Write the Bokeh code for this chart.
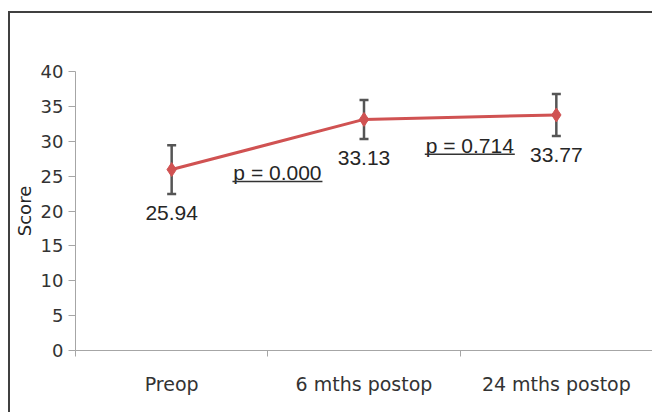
from bokeh.plotting import figure
from bokeh.models import Range1d, FixedTicker, Whisker, TeeHead, ColumnDataSource
from bokeh.core.properties import value
from bokeh.embed import file_html
from bokeh.resources import INLINE

# ---- data ----
categories = ["Preop", "6 mths postop", "24 mths postop"]
scores = [25.94, 33.13, 33.77]
sds = [3.5, 2.8, 3.0]
score_labels = ["25.94", "33.13", "33.77"]
p_values = ["p = 0.000", "p = 0.714"]
y_ticks = [0, 5, 10, 15, 20, 25, 30, 35, 40]

RED = "#d05252"
GRID = "#a6a6a6"
TXT = "#262626"

xs = [i + 0.5 for i in range(len(categories))]
src = ColumnDataSource(dict(
    x=xs, y=scores,
    upper=[s + d for s, d in zip(scores, sds)],
    lower=[s - d for s, d in zip(scores, sds)],
    label=score_labels,
))

p = figure(width=644, height=401, x_range=Range1d(0, len(categories)),
           y_range=Range1d(y_ticks[0], y_ticks[-1]),
           output_backend="svg", toolbar_location=None,
           min_border_left=63, min_border_right=2, min_border_top=58, min_border_bottom=64)
p.styles = {"border-left": "2px solid #404040", "border-top": "2px solid #404040",
            "margin-top": "11px", "margin-left": "8px"}
p.outline_line_color = None
p.xgrid.visible = False
p.ygrid.visible = False
p.background_fill_color = "white"
p.border_fill_color = "white"

# y axis
ya = p.yaxis[0]
ya.ticker = FixedTicker(ticks=y_ticks)
ya.axis_line_color = GRID
ya.major_tick_line_color = GRID
ya.major_tick_out = 7
ya.major_tick_in = 0
ya.minor_tick_line_color = None
ya.major_label_text_font = "DejaVu Sans"
ya.major_label_text_font_size = "18px"
ya.major_label_text_color = "#333333"
ya.major_label_standoff = 5
ya.axis_label = "Score"
ya.axis_label_text_font = "DejaVu Sans"
ya.axis_label_text_font_size = "18px"
ya.axis_label_text_font_style = "normal"
ya.axis_label_text_color = TXT
ya.axis_label_standoff = 3

# x axis: labels at category centres, ticks at category boundaries
xa = p.xaxis[0]
xa.ticker = FixedTicker(ticks=xs, minor_ticks=list(range(len(categories) + 1)))
xa.major_label_overrides = {x: c for x, c in zip(xs, categories)}
xa.axis_line_color = GRID
xa.major_tick_line_color = None
xa.major_tick_out = 0
xa.major_tick_in = 0
xa.minor_tick_line_color = GRID
xa.minor_tick_out = 6
xa.minor_tick_in = 0
xa.major_label_text_font = "DejaVu Sans"
xa.major_label_text_font_size = "19px"
xa.major_label_text_color = "#333333"
xa.major_label_standoff = 16

# error bars
w = Whisker(source=src, base="x", upper="upper", lower="lower",
            line_color="#555555", line_width=2.5,
            upper_head=TeeHead(size=9, line_color="#555555", line_width=2.5),
            lower_head=TeeHead(size=9, line_color="#555555", line_width=2.5))
p.add_layout(w)

p.line("x", "y", source=src, line_color=RED, line_width=3)
p.scatter("x", "y", source=src, marker="diamond", size=14, fill_color=RED, line_color=RED)

# value labels under error bars
p.text("x", "lower", text="label", source=src, text_align="center", text_baseline="middle",
       y_offset=19, text_font=value("Liberation Sans"), text_font_size="21px", text_color=TXT)

# p-values between points, underlined
px = [(xs[i] + xs[i + 1]) / 2 + 0.05 for i in range(len(p_values))]
py = [(scores[i] + scores[i + 1]) / 2 - 4.0 for i in range(len(p_values))]
p.text(px, py, text=p_values, text_align="center", text_baseline="middle",
       text_font=value("Liberation Sans"), text_font_size="21px", text_color=TXT)
p.rect(px, [y - 1.3 for y in py], width=90, height=1.5, width_units="screen",
       height_units="screen", fill_color="#333333", line_color=None)

open("out.html", "w").write(file_html(p, INLINE))
